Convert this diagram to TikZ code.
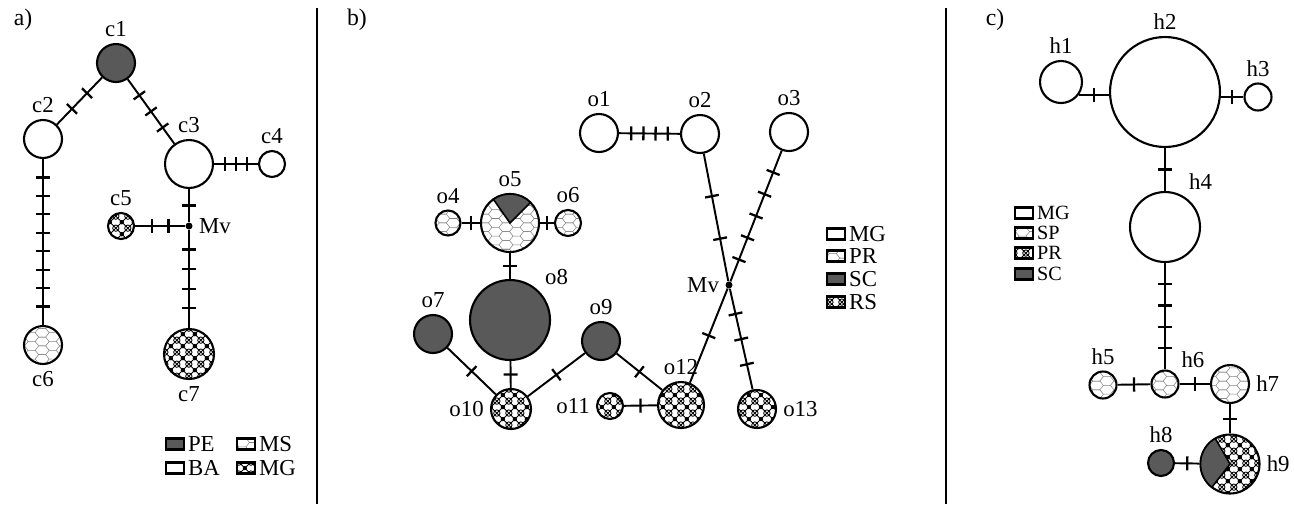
\documentclass[tikz,border=0pt]{standalone}
\usepackage{fontspec}
\setmainfont{Liberation Serif}
\usepackage{xcolor}
\usepackage{tikz}
\usetikzlibrary{patterns, decorations.markings}

\definecolor{darkhap}{gray}{0.35}

\pgfdeclarepatternformonly{honeycomb}{\pgfqpoint{-0.5pt}{-0.5pt}}{\pgfqpoint{12.5pt}{5.5pt}}{\pgfqpoint{12pt}{5pt}}{%
  \pgfsetlinewidth{0.3pt}
  \pgfpathmoveto{\pgfqpoint{0pt}{0pt}}\pgfpathlineto{\pgfqpoint{2pt}{0pt}}
  \pgfpathlineto{\pgfqpoint{4pt}{2.5pt}}\pgfpathlineto{\pgfqpoint{2pt}{5pt}}\pgfpathlineto{\pgfqpoint{0pt}{5pt}}
  \pgfpathmoveto{\pgfqpoint{4pt}{2.5pt}}\pgfpathlineto{\pgfqpoint{8pt}{2.5pt}}
  \pgfpathlineto{\pgfqpoint{10pt}{0pt}}\pgfpathlineto{\pgfqpoint{12pt}{0pt}}
  \pgfpathmoveto{\pgfqpoint{8pt}{2.5pt}}\pgfpathlineto{\pgfqpoint{10pt}{5pt}}\pgfpathlineto{\pgfqpoint{12pt}{5pt}}
  \pgfusepath{stroke}}

\pgfdeclarepatternformonly{ornate}{\pgfqpoint{0pt}{0pt}}{\pgfqpoint{7pt}{7pt}}{\pgfqpoint{7pt}{7pt}}{%
  \pgfsetlinewidth{0.5pt}
  \pgfpathcircle{\pgfqpoint{3.5pt}{3.5pt}}{1.9pt}
  \pgfpathmoveto{\pgfqpoint{0pt}{0pt}}\pgfpathlineto{\pgfqpoint{7pt}{7pt}}
  \pgfpathmoveto{\pgfqpoint{0pt}{7pt}}\pgfpathlineto{\pgfqpoint{7pt}{0pt}}
  \pgfusepath{stroke}
  \pgfpathcircle{\pgfqpoint{0pt}{0pt}}{1.2pt}
  \pgfpathcircle{\pgfqpoint{7pt}{0pt}}{1.2pt}
  \pgfpathcircle{\pgfqpoint{0pt}{7pt}}{1.2pt}
  \pgfpathcircle{\pgfqpoint{7pt}{7pt}}{1.2pt}
  \pgfusepath{fill}}

\begin{document}
\begin{tikzpicture}[x=0.02cm,y=-0.02cm,
  font=\fontsize{13}{15}\selectfont,
  hap/.style={circle,draw,line width=1.2pt,inner sep=0pt,minimum size=#1*0.04cm},
  scfill/.style={fill=darkhap},
  lightpat/.style={pattern=honeycomb,pattern color=black!50},
  darkpat/.style={pattern=ornate,pattern color=black},
  mv/.style={circle,fill=black,inner sep=0pt,minimum size=0.14cm},
  link/.style={line width=1.1pt},
  mut/.style={postaction={decorate,decoration={markings,
    mark=between positions 1/(#1+1) and #1/(#1+1)+0.01 step 1/(#1+1) with {\draw[line width=1.3pt] (0pt,-4pt) -- (0pt,4pt);}}}},
  legbox/.style={rectangle,draw,line width=1.2pt,inner sep=0pt,minimum width=18*0.02cm,minimum height=11*0.02cm},
  legtxt/.style={inner xsep=1.5pt,inner ysep=0pt},
  legsmall/.style={legtxt,font=\fontsize{11.5}{13}\selectfont}]
\useasboundingbox (0,0) rectangle (1294,504);

\draw[line width=1.3pt] (317,8) -- (317,504);
\draw[line width=1.3pt] (946,8) -- (946,504);

\node[font=\fontsize{13.5}{15}\selectfont] (pa) at (23,20) {a)};
\node[font=\fontsize{13.5}{15}\selectfont] (pb) at (357,20) {b)};
\node[font=\fontsize{13.5}{15}\selectfont] (pc) at (995,20) {c)};

% a)
\node[hap=19,scfill,label=above:c1] (c1) at (116,63) {};
\node[hap=19,label=above:c2] (c2) at (43,139) {};
\node[hap=24,label=above:c3] (c3) at (189,164) {};
\node[hap=13,label=above:c4] (c4) at (272,164) {};
\node[hap=13,darkpat,label=above:c5] (c5) at (121,226) {};
\node[mv,label=right:Mv] (mvA) at (189,226) {};
\node[hap=19,lightpat,label=below:c6] (c6) at (43,345) {};
\node[hap=25,darkpat,label=below:c7] (c7) at (189,354) {};

\draw[link,mut=2] (c1) -- (c2);
\draw[link,mut=3] (c1) -- (c3);
\draw[link,mut=3] (c3) -- (c4);
\draw[link,mut=1] (c3) -- (mvA);
\draw[link,mut=2] (c5) -- (mvA);
\draw[link,mut=4] (mvA) -- (c7);
\draw[link,mut=8] (c2) -- (c6);

\node[legbox,scfill,label={[legtxt]right:PE}] (legPE) at (175,444) {};
\node[legbox,lightpat,label={[legtxt]right:MS}] (legMS) at (246,444) {};
\node[legbox,label={[legtxt]right:BA}] (legBA) at (175,468) {};
\node[legbox,darkpat,label={[legtxt]right:MG}] (legMGa) at (246,468) {};

% b)
\node[hap=19,label=above:o1] (o1) at (599,133) {};
\node[hap=19,label=above:o2] (o2) at (700,134) {};
\node[hap=19,label=above:o3] (o3) at (789,132) {};
\node[mv,label=left:Mv] (mvB) at (729,285) {};
\node[hap=12.5,lightpat,label=above:o4] (o4) at (448,223) {};
\node[hap=29,lightpat,label=above:o5] (o5) at (510,223) {};
\node[hap=13,lightpat,label=above:o6] (o6) at (568,223) {};
\node[hap=19,scfill,label=above:o7] (o7) at (433,334) {};
\node[hap=40,scfill,label={45:o8}] (o8) at (510,320) {};
\node[hap=19,scfill,label=above:o9] (o9) at (601,341) {};
\node[hap=20,darkpat,label=left:o10] (o10) at (511,409) {};
\node[hap=13,darkpat,label=left:o11] (o11) at (610,406) {};
\node[hap=23,darkpat,label=above:o12] (o12) at (681,405) {};
\node[hap=19,darkpat,label=right:o13] (o13) at (757,409) {};

\filldraw[scfill,line width=0.9pt] (o5.center) -- ++(-125:29) arc[start angle=-125,end angle=-45,radius=29] -- cycle;

\draw[link,mut=4] (o1) -- (o2);
\draw[link,mut=2] (o2) -- (mvB);
\draw[link,mut=5] (o3) -- (mvB);
\draw[link,mut=1] (mvB) -- (o12);
\draw[link,mut=3] (mvB) -- (o13);
\draw[link,mut=1] (o4) -- (o5);
\draw[link,mut=1] (o5) -- (o6);
\draw[link,mut=1] (o5) -- (o8);
\draw[link,mut=1] (o8) -- (o10);
\draw[link,mut=1] (o7) -- (o10);
\draw[link,mut=1] (o9) -- (o10);
\draw[link,mut=1] (o9) -- (o12);
\draw[link,mut=1] (o11) -- (o12);

\node[legbox,label={[legtxt]right:MG}] (legMGb) at (836,234) {};
\node[legbox,lightpat,label={[legtxt]right:PR}] (legPRb) at (836,256) {};
\node[legbox,scfill,label={[legtxt]right:SC}] (legSCb) at (836,279) {};
\node[legbox,darkpat,label={[legtxt]right:RS}] (legRS) at (836,302) {};

% c)
\node[hap=21,label=above:h1] (h1) at (1061,82) {};
\node[hap=55,label=above:h2] (h2) at (1165,92) {};
\node[hap=13.5,label=above:h3] (h3) at (1258,97) {};
\node[hap=35,label={60:h4}] (h4) at (1165,227) {};
\node[hap=13.5,lightpat,label=above:h5] (h5) at (1103,385) {};
\node[hap=13.5,lightpat,label={45:h6}] (h6) at (1165,384) {};
\node[hap=19,lightpat,label=right:h7] (h7) at (1230,384) {};
\node[hap=13,scfill,label=above:h8] (h8) at (1161,463) {};
\node[hap=29.5,darkpat,label=right:h9] (h9) at (1230,464) {};

\filldraw[scfill,line width=0.9pt] (h9.center) -- ++(128:29.5) arc[start angle=128,end angle=240,radius=29.5] -- cycle;

\draw[link,mut=1] (h1.-35) -- (h1.-35 -| h2.west);
\draw[link,mut=1] (h3) -- (h3 -| h2.east);
\draw[link,mut=1] (h2) -- (h4);
\draw[link,mut=4] (h4) -- (h6);
\draw[link,mut=1] (h5) -- (h6);
\draw[link,mut=1] (h6) -- (h7);
\draw[link,mut=1] (h7) -- (h9);
\draw[link,mut=1] (h8) -- (h9);

\node[legbox,label={[legsmall]right:MG}] (legMGc) at (1024,213) {};
\node[legbox,lightpat,label={[legsmall]right:SP}] (legSP) at (1024,233) {};
\node[legbox,darkpat,label={[legsmall]right:PR}] (legPRc) at (1024,253) {};
\node[legbox,scfill,label={[legsmall]right:SC}] (legSCc) at (1024,274) {};
\end{tikzpicture}
\end{document}
